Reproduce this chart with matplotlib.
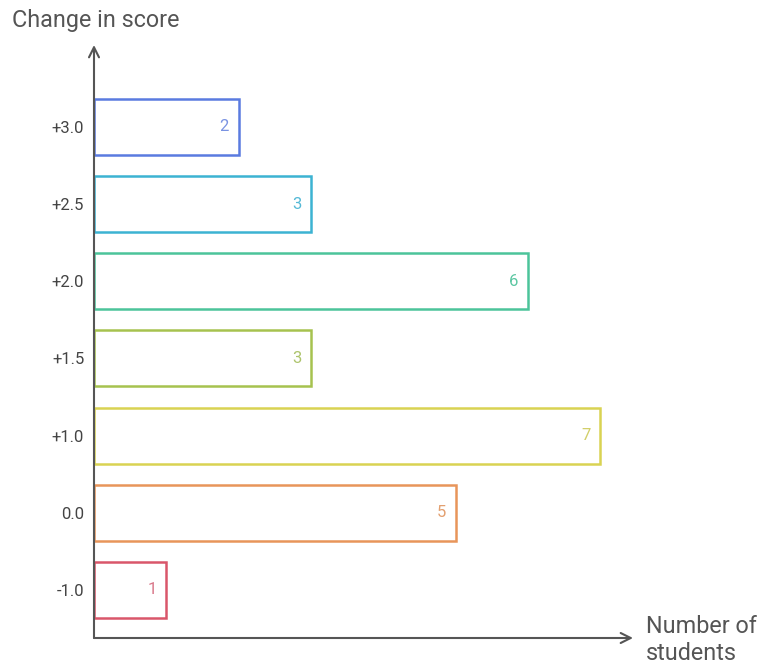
import matplotlib
matplotlib.use("Agg")
import matplotlib.pyplot as plt

plt.rcParams['font.family'] = ['Roboto', 'DejaVu Sans']

# score change buckets, bottom to top
categories = ['-1.0', '0.0', '+1.0', '+1.5', '+2.0', '+2.5', '+3.0']
students = [1, 5, 7, 3, 6, 3, 2]
edge_colors = ['#d9566a', '#e8955a', '#d9d352', '#a6c24f', '#4cc49a', '#3cb3d2', '#5a7be0']
label_colors = ['#d9788a', '#e3a070', '#d2cf6a', '#adc46c', '#5cc7a2', '#55b9d6', '#7a93e2']

fig = plt.figure(figsize=(7.57, 6.64), dpi=100)
W, H = 757, 664
# axes box in pixel coordinates: origin at (94, 638), arrows end at x=633 / y=45
ax = fig.add_axes([94 / W, (H - 638) / H, (633 - 94) / W, (638 - 45) / H])

ypos = list(range(len(categories)))
ax.barh(ypos, students, height=0.725, fill=False, edgecolor=edge_colors, linewidth=1.8)

for y, v, c in zip(ypos, students, label_colors):
    ax.annotate(str(v), xy=(v, y), xytext=(-7, 0), textcoords='offset points',
                ha='right', va='center', fontsize=12, color=c)

ax.set_xlim(0, 7.455)
ax.set_ylim(-0.622, 7.06)

ax.set_yticks(ypos)
ax.set_yticklabels(categories, fontsize=12, color='#444444')
ax.tick_params(axis='y', length=0, pad=7)
ax.set_xticks([])
for s in ax.spines.values():
    s.set_visible(False)

axis_color = '#555555'
ax.annotate('', xy=(1, 0), xytext=(0, 0), xycoords='axes fraction',
            arrowprops=dict(arrowstyle='->', color=axis_color, lw=1.5,
                            mutation_scale=18, shrinkA=0, shrinkB=0))
ax.annotate('', xy=(0, 1), xytext=(0, 0), xycoords='axes fraction',
            arrowprops=dict(arrowstyle='->', color=axis_color, lw=1.5,
                            mutation_scale=18, shrinkA=0, shrinkB=0))

fig.text(12 / W, 1 - 20 / H, 'Change in score', ha='left', va='center',
         fontsize=16.8, color='#555555')
fig.text(646 / W, 1 - 640 / H, 'Number of\nstudents', ha='left', va='center',
         fontsize=16.8, color='#555555', linespacing=1.2)

fig.savefig('out.png', dpi=100)
